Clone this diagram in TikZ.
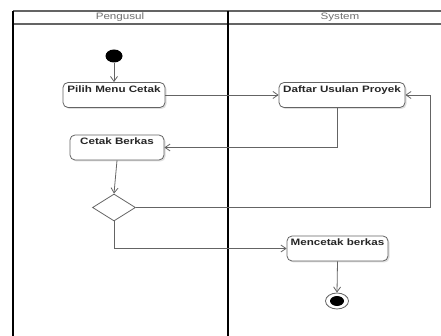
\documentclass[tikz,border=0pt]{standalone}
\usepackage{fontspec}
\newfontfamily\lanefont[FakeStretch=1.25]{Liberation Sans}
\usetikzlibrary{arrows.meta,shapes.geometric,shadows,calc}
\definecolor{lineg}{RGB}{100,100,100}
\definecolor{headg}{RGB}{110,110,110}
\tikzset{
  act/.style={draw=lineg, line width=0.8pt, rounded corners=5pt, fill=white,
    font=\lanefont\fontsize{9.3}{10}\selectfont\bfseries, text=black!85,
    inner xsep=2pt, inner ysep=3pt, text height=7pt, text depth=12pt,
    drop shadow={opacity=0.25, shadow xshift=1.5pt, shadow yshift=-1.5pt}},
  flow/.style={draw=lineg, line width=0.8pt, -{Straight Barb[length=5pt,width=7pt]}},
  lanehead/.style={font=\lanefont\fontsize{9.3}{10}\selectfont, text=headg},
}
\begin{document}
\begin{tikzpicture}[x=1pt,y=-1pt]
\useasboundingbox (0,0) rectangle (441,336);
% swimlanes
\draw[lineg, line width=1.2pt] (13,11) -- (441,11);
\draw[lineg, line width=1.2pt] (13,24) -- (441,24);
\draw[black, line width=1.4pt] (13,11) -- (13,336);
\draw[black, line width=1.8pt] (228,11) -- (228,336);
\node[lanehead] (h1) at (120,17.5) {Pengusul};
\node[lanehead] (h2) at (340,17.5) {System};
% nodes
\node[ellipse, fill=black, minimum width=17pt, minimum height=13pt, inner sep=0pt] (start) at (114,56) {};
\node[act, minimum width=102pt] (pilih) at (114,95) {Pilih Menu Cetak};
\node[act, minimum width=126pt] (daftar) at (342,95) {Daftar Usulan Proyek};
\node[act, minimum width=94pt] (cetak) at (117,147.5) {Cetak Berkas};
\node[diamond, draw=lineg, line width=0.8pt, fill=white, inner sep=0pt, minimum width=43pt, minimum height=27pt] (dia) at (114,207.5) {};
\node[act, minimum width=101pt] (mencetak) at (337.5,248.5) {Mencetak berkas};
\node[ellipse, draw=lineg, line width=0.8pt, fill=white, minimum width=23pt, minimum height=16pt, inner sep=0pt] (end) at (337,301) {};
\node[ellipse, fill=black, minimum width=14pt, minimum height=10pt, inner sep=0pt] (endin) at (337,301) {};
% connectors
\coordinate (loop) at ($(daftar.east)+(25,0)$);
\coordinate (down) at ($(daftar.south)+(-5,0)$);
\draw[flow] (start) -- (pilih.north);
\draw[flow] (pilih.east) -- (daftar.west);
\draw[flow] (down) |- (cetak.east);
\draw[flow] (cetak.south) -- (dia.north);
\draw[flow] (dia.east) -| (loop) -- (daftar.east);
\draw[flow] (dia.south) |- (mencetak.west);
\draw[flow] (mencetak.south) -- (end.north);
\end{tikzpicture}
\end{document}
